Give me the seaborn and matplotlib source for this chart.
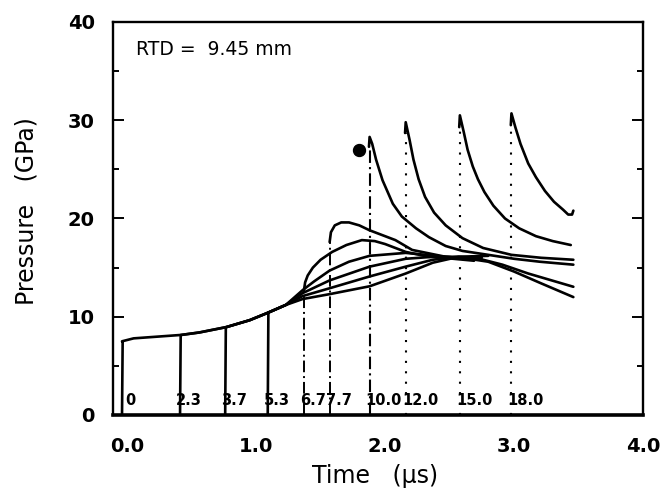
import numpy as np
import pandas as pd
import matplotlib

matplotlib.use("Agg")
import matplotlib.pyplot as plt
import seaborn as sns
from matplotlib.ticker import MultipleLocator, FormatStrFormatter

sns.set_style("ticks")
plt.rcParams["font.family"] = ["DejaVu Sans"]
plt.rcParams.update({
    "text.color": "black",
    "axes.labelcolor": "black",
    "axes.edgecolor": "black",
    "xtick.color": "black",
    "ytick.color": "black",
})

# gauge positions (mm) and arrival times (us)
gauge_mm = ["0", "2.3", "3.7", "5.3", "6.7", "7.7", "10.0", "12.0", "15.0", "18.0"]
arrival_us = [-0.04, 0.41, 0.76, 1.09, 1.37, 1.57, 1.88, 2.16, 2.58, 2.98]

# common precursor envelope
env_t = [-0.04, 0.05, 0.42, 0.56, 0.77, 0.95, 1.09, 1.23]
env_p = [7.5, 7.8, 8.15, 8.4, 8.95, 9.65, 10.4, 11.2]

# ramp gauges after leaving the envelope
g0_t = [1.36, 1.57, 1.88, 2.16, 2.37, 2.57, 2.72]
g0_p = [11.8, 12.3, 13.1, 14.4, 15.5, 16.1, 16.0]
g23_t = [1.36, 1.57, 1.88, 2.16, 2.37, 2.55, 2.80]
g23_p = [12.1, 12.9, 14.1, 15.1, 15.8, 16.1, 16.2]
g37_t = [1.36, 1.57, 1.88, 2.16, 2.37, 2.69]
g37_p = [12.4, 13.7, 15.1, 15.9, 16.1, 15.7]
g53_t = [1.36, 1.45, 1.57, 1.72, 1.88, 2.16, 2.47, 2.75]
g53_p = [12.7, 13.6, 14.7, 15.6, 16.2, 16.5, 16.1, 16.0]
g67_t = [1.37, 1.38, 1.40, 1.44, 1.50, 1.59, 1.70, 1.82, 1.92, 2.0, 2.16, 2.34, 2.47,
         2.70, 2.91, 3.11, 3.46]
g67_p = [12.6, 13.5, 14.2, 15.0, 15.8, 16.6, 17.3, 17.8, 17.7, 17.4, 16.6, 16.1, 16.1,
         16.0, 15.3, 14.4, 13.05]
g77_t = [1.57, 1.58, 1.61, 1.66, 1.72, 1.80, 1.88, 2.08, 2.21, 2.47, 2.65, 2.80, 3.00,
         3.21, 3.46]
g77_p = [17.6, 18.6, 19.3, 19.6, 19.6, 19.3, 18.8, 17.8, 16.8, 16.1, 15.9, 15.6, 14.6,
         13.4, 12.0]

# shock gauges
g10_t = [1.875, 1.88, 1.90, 1.93, 1.98, 2.06, 2.13, 2.24, 2.34, 2.47, 2.60, 2.80, 3.00,
         3.20, 3.46]
g10_p = [27.3, 28.3, 27.6, 26.0, 23.9, 21.5, 20.2, 19.0, 18.1, 17.2, 16.7, 16.3, 15.9,
         15.6, 15.3]
g12_t = [2.155, 2.16, 2.19, 2.22, 2.26, 2.31, 2.38, 2.47, 2.60, 2.76, 2.98, 3.21, 3.46]
g12_p = [28.7, 29.8, 28.0, 26.0, 24.0, 22.2, 20.6, 19.3, 18.0, 17.0, 16.3, 16.0, 15.8]
g15_t = [2.575, 2.58, 2.61, 2.64, 2.68, 2.72, 2.77, 2.84, 2.93, 3.04, 3.17, 3.30, 3.44]
g15_p = [29.3, 30.5, 28.8, 27.0, 25.3, 24.0, 22.7, 21.3, 20.0, 19.0, 18.2, 17.7, 17.3]
g18_t = [2.975, 2.98, 3.01, 3.05, 3.11, 3.17, 3.24, 3.31, 3.38, 3.42, 3.45, 3.46]
g18_p = [29.5, 30.7, 29.3, 27.6, 25.6, 24.2, 22.8, 21.7, 20.9, 20.4, 20.4, 20.8]

ramp_tails = [(g0_t, g0_p), (g23_t, g23_p), (g37_t, g37_p), (g53_t, g53_p)]
shock_traces = [(g10_t, g10_p), (g12_t, g12_p), (g15_t, g15_p), (g18_t, g18_p)]

dot_t, dot_p = [1.80], [27.0]

fig = plt.figure(figsize=(6.67, 4.91), dpi=100)
ax = fig.add_axes([0.1694, 0.1548, 0.7946, 0.8004])
lw = 1.9

# gauges 0 - 5.3: solid jump, envelope, then fan
for i, (tt, pp) in enumerate(ramp_tails):
    t0 = arrival_us[i]
    et = [t for t in env_t if t >= t0]
    ep = [p for t, p in zip(env_t, env_p) if t >= t0]
    jump_p = np.interp(t0, env_t, env_p)
    xs = [t0, t0 + 0.005, *et, *tt]
    ys = [0, jump_p, *ep, *pp]
    sns.lineplot(x=xs, y=ys, color="k", lw=lw, sort=False, estimator=None, ax=ax)

# gauges 6.7 and 7.7: broken rise, then solid
for i, (tt, pp) in zip([4, 5], [(g67_t, g67_p), (g77_t, g77_p)]):
    ax.plot([arrival_us[i]] * 2, [0, pp[0]], color="k", lw=1.4, ls=(0, (6, 2, 1, 2)))
    sns.lineplot(x=tt, y=pp, color="k", lw=lw, sort=False, estimator=None, ax=ax)

# shock gauges: dotted rise, solid decay
for i, (tt, pp) in zip(range(6, 10), shock_traces):
    style = (0, (6, 2, 1, 2)) if i == 6 else (0, (1, 4))
    ax.plot([arrival_us[i]] * 2, [0, pp[0]], color="k", lw=1.5, ls=style)
    sns.lineplot(x=tt, y=pp, color="k", lw=lw, sort=False, estimator=None, ax=ax)

sns.scatterplot(x=dot_t, y=dot_p, color="k", s=110, ax=ax, zorder=5)

# gauge labels along the baseline
for i, lab in enumerate(gauge_mm):
    off = 0.03 if i else -0.025
    ax.text(arrival_us[i] - off, 1.5, lab, fontsize=10.5, fontweight="bold",
            ha="left", va="center")

ax.text(0.043, 0.93, "RTD =  9.45 mm", transform=ax.transAxes, fontsize=13.5,
        ha="left", va="center")

ax.set_xlim(-0.11, 4.0)
ax.set_ylim(0, 40)
ax.xaxis.set_major_locator(MultipleLocator(1.0))
ax.xaxis.set_major_formatter(FormatStrFormatter("%.1f"))
ax.yaxis.set_major_locator(MultipleLocator(10))
ax.yaxis.set_minor_locator(MultipleLocator(5))
ax.tick_params(axis="y", which="major", direction="in", length=8, width=1.4,
               right=True, labelsize=14, pad=13)
ax.tick_params(axis="y", which="minor", direction="in", length=4, width=1.4, right=True)
ax.tick_params(axis="x", which="major", length=0, labelsize=14, pad=16)
for lab in ax.get_xticklabels() + ax.get_yticklabels():
    lab.set_fontweight("bold")

for side in ["left", "right", "top"]:
    ax.spines[side].set_linewidth(1.7)
ax.spines["bottom"].set_linewidth(2.6)

ax.set_xlabel("Time   (\u03bcs)", fontsize=17)
ax.set_ylabel("Pressure   (GPa)", fontsize=17)
ax.xaxis.set_label_coords(0.495, -0.125)
ax.yaxis.set_label_coords(-0.14, 0.52)

fig.savefig("out.png", dpi=100)
